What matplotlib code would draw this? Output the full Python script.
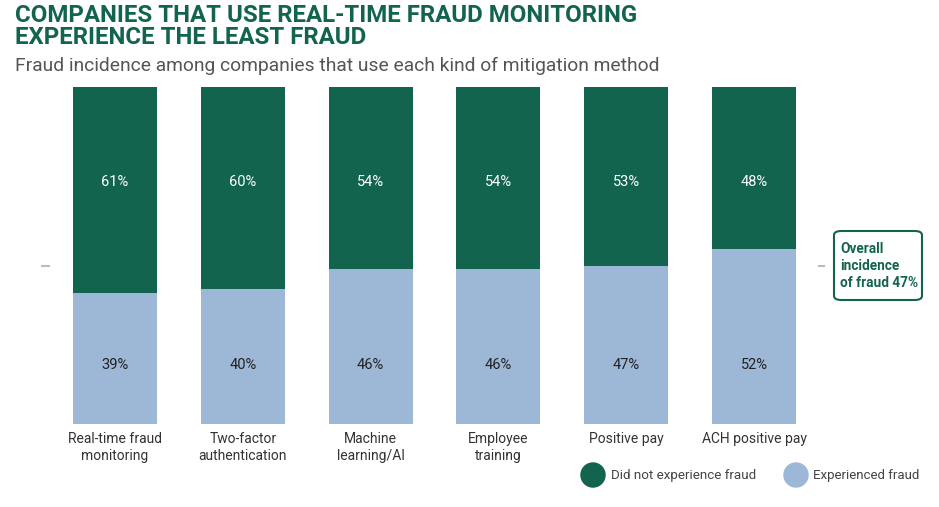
import matplotlib.pyplot as plt
from matplotlib.patches import FancyBboxPatch

categories = ["Real-time fraud\nmonitoring", "Two-factor\nauthentication", "Machine\nlearning/AI",
              "Employee\ntraining", "Positive pay", "ACH positive pay"]
experienced = [39, 40, 46, 46, 47, 52]
not_experienced = [61, 60, 54, 54, 53, 48]
overall = 47

green = "#13644F"
blue = "#9DB8D6"

plt.rcParams['font.family'] = ['Roboto', 'DejaVu Sans']

fig = plt.figure(figsize=(9.39, 5.07), dpi=100)
ax = fig.add_axes([0.0408, 0.1637, 0.8439, 0.6647])

x = range(len(categories))
ax.bar(x, experienced, width=0.657, color=blue, zorder=2)
ax.bar(x, not_experienced, width=0.657, bottom=experienced, color=green, zorder=2)

# short reference marks at overall incidence
ax.plot([-0.57, -0.52], [overall, overall], color="#BBBBBB", lw=1.5)
ax.plot([5.51, 5.55], [overall, overall], color="#BBBBBB", lw=1.5)

for i in x:
    ax.text(i, 71.8, f"{not_experienced[i]}%", ha="center", va="center", color="white", fontsize=10.5)
    ax.text(i, 17.5, f"{experienced[i]}%", ha="center", va="center", color="#222222", fontsize=10.5)

ax.set_xlim(-0.6, 5.6)
ax.set_ylim(0, 100)
ax.set_xticks(list(x))
ax.set_xticklabels(categories, fontsize=10, color="#333333", linespacing=1.25)
ax.tick_params(length=0, pad=6)
ax.set_yticks([])
for s in ax.spines.values():
    s.set_visible(False)

fig.text(0.016, 0.993, "COMPANIES THAT USE REAL-TIME FRAUD MONITORING\nEXPERIENCE THE LEAST FRAUD",
         fontsize=17.3, fontweight="bold", color=green, va="top", linespacing=0.98)
fig.text(0.016, 0.887, "Fraud incidence among companies that use each kind of mitigation method",
         fontsize=13.9, color="#555555", va="top")

# annotation box
box = FancyBboxPatch((834 / 939, 207 / 507), 88 / 939, 69 / 507,
                     boxstyle="round,pad=0,rounding_size=0.008", transform=fig.transFigure,
                     facecolor="white", edgecolor=green, lw=1.5)
fig.patches.append(box)
fig.text(840 / 939, 241 / 507, f"Overall\nincidence\nof fraud {overall}%", fontsize=9.8,
         fontweight="bold", color=green, va="center", ha="left", linespacing=1.3)

# legend
ax_leg = fig.add_axes([0, 0, 1, 1], zorder=-1)
ax_leg.set_xlim(0, 939)
ax_leg.set_ylim(0, 507)
ax_leg.axis("off")
ax_leg.scatter([593, 796], [32, 32], s=300, color=[green, blue])
ax_leg.text(611, 32, "Did not experience fraud", fontsize=9.6, color="#444444", va="center")
ax_leg.text(813, 32, "Experienced fraud", fontsize=9.5, color="#444444", va="center")

fig.savefig("out.png", dpi=100)
